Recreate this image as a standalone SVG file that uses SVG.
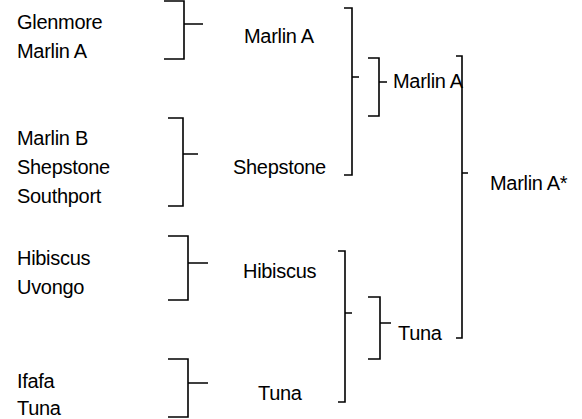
<svg xmlns="http://www.w3.org/2000/svg" width="582" height="419" viewBox="0 0 582 419">
<style>
text{font-family:"Liberation Sans",Arial,sans-serif;font-size:20px;letter-spacing:-0.3px;fill:#000}
.br{fill:none;stroke:#000;stroke-width:1.6}
</style>
<rect width="582" height="419" fill="#fff"/>
<g id="connectors">
<path class="br" d="M164,1 H184 V59 H164 M184,24 H203"/>
<path class="br" d="M168,118 H183 V206 H168 M183,154 H198"/>
<path class="br" d="M168,236 H188 V300 H168 M188,263 H208"/>
<path class="br" d="M168,359 H188 V417 H168 M188,383 H208"/>
<path class="br" d="M344,8 H352 V175 H344 M352,77 H359"/>
<path class="br" d="M368,58 H379 V116 H368 M379,82 H387"/>
<path class="br" d="M338,251 H345 V402 H338 M345,313 H352"/>
<path class="br" d="M368,297 H380 V359 H368 M380,323 H391"/>
<path class="br" d="M456,56 H462 V338 H456 M462,173 H468"/>
</g>
<g id="leaf-glenmore"><text x="17" y="29">Glenmore</text></g>
<g id="leaf-marlin-a"><text x="17" y="58">Marlin A</text></g>
<g id="leaf-marlin-b"><text x="17" y="145">Marlin B</text></g>
<g id="leaf-shepstone"><text x="17" y="174">Shepstone</text></g>
<g id="leaf-southport"><text x="17" y="203">Southport</text></g>
<g id="leaf-hibiscus"><text x="17" y="265">Hibiscus</text></g>
<g id="leaf-uvongo"><text x="17" y="294">Uvongo</text></g>
<g id="leaf-ifafa"><text x="17" y="388">Ifafa</text></g>
<g id="leaf-tuna"><text x="17" y="415">Tuna</text></g>
<g id="r1-marlin-a"><text x="244" y="43">Marlin A</text></g>
<g id="r1-shepstone"><text x="233" y="174">Shepstone</text></g>
<g id="r1-hibiscus"><text x="243" y="278">Hibiscus</text></g>
<g id="r1-tuna"><text x="258" y="400">Tuna</text></g>
<g id="r2-marlin-a"><text x="393" y="88">Marlin A</text></g>
<g id="r2-tuna"><text x="398" y="340">Tuna</text></g>
<g id="final-marlin-a-star"><text x="490" y="190">Marlin A*</text></g>
</svg>
